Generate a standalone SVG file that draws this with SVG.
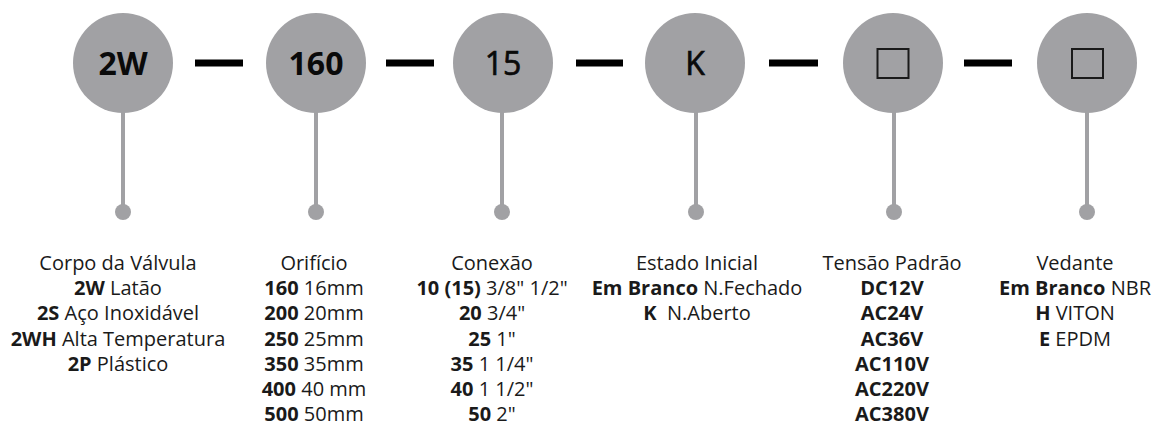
<svg xmlns="http://www.w3.org/2000/svg" width="1160" height="425" viewBox="0 0 1160 425">
<style>
.c{fill:#a1a1a4}
.stem{stroke:#a1a1a4;stroke-width:4}
.dash{fill:#000}
.nt{font-family:"Open Sans","Liberation Sans",sans-serif;font-size:32px;font-weight:700;fill:#0a0a0a;text-anchor:middle}
.nm{font-weight:400;stroke:#0a0a0a;stroke-width:0.7}
.sq{fill:none;stroke:#1a1a1a;stroke-width:2}
.t{font-family:"Open Sans","Liberation Sans",sans-serif;font-size:20px;fill:#1a1a1a;text-anchor:middle}
.b{font-weight:700}
</style>
<rect width="1160" height="425" fill="#fff"/>
<g id="connectors">
<rect class="dash" x="195" y="59.5" width="48" height="7"/>
<rect class="dash" x="386" y="59.5" width="48" height="7"/>
<rect class="dash" x="576" y="59.5" width="47" height="7"/>
<rect class="dash" x="769" y="59.5" width="49" height="7"/>
<rect class="dash" x="964" y="59.5" width="48" height="7"/>
<line class="stem" x1="123" y1="110" x2="123" y2="212"/>
<line class="stem" x1="316" y1="110" x2="316" y2="212"/>
<line class="stem" x1="502" y1="110" x2="502" y2="212"/>
<line class="stem" x1="696" y1="110" x2="696" y2="212"/>
<line class="stem" x1="894" y1="110" x2="894" y2="212"/>
<line class="stem" x1="1087" y1="110" x2="1087" y2="212"/>
<circle class="c" cx="123" cy="212" r="8"/>
<circle class="c" cx="316" cy="212" r="8"/>
<circle class="c" cx="502" cy="212" r="8"/>
<circle class="c" cx="696" cy="212" r="8"/>
<circle class="c" cx="894" cy="212" r="8"/>
<circle class="c" cx="1087" cy="212" r="8"/>
</g>
<g id="n1">
<circle class="c" cx="123" cy="63" r="50"/>
<text class="nt" x="123" y="75">2W</text>
<text class="t" x="118" y="270">Corpo da Válvula</text>
<text class="t" x="118" y="295.2"><tspan class="b">2W</tspan> Latão</text>
<text class="t" x="118" y="320.4"><tspan class="b">2S</tspan> Aço Inoxidável</text>
<text class="t" x="118" y="345.6"><tspan class="b">2WH</tspan> Alta Temperatura</text>
<text class="t" x="118" y="370.8"><tspan class="b">2P</tspan> Plástico</text>
</g>
<g id="n2">
<circle class="c" cx="316" cy="63" r="50"/>
<text class="nt" x="316" y="75">160</text>
<text class="t" x="314" y="270">Orifício</text>
<text class="t" x="314" y="295.2"><tspan class="b">160</tspan> 16mm</text>
<text class="t" x="314" y="320.4"><tspan class="b">200</tspan> 20mm</text>
<text class="t" x="314" y="345.6"><tspan class="b">250</tspan> 25mm</text>
<text class="t" x="314" y="370.8"><tspan class="b">350</tspan> 35mm</text>
<text class="t" x="314" y="396"><tspan class="b">400</tspan> 40 mm</text>
<text class="t" x="314" y="421"><tspan class="b">500</tspan> 50mm</text>
</g>
<g id="n3">
<circle class="c" cx="503" cy="63" r="50"/>
<text class="nt nm" x="503" y="75">15</text>
<text class="t" x="492" y="270">Conexão</text>
<text class="t" x="492" y="295.2"><tspan class="b">10 (15)</tspan> 3/8" 1/2"</text>
<text class="t" x="492" y="320.4"><tspan class="b">20</tspan> 3/4"</text>
<text class="t" x="492" y="345.6"><tspan class="b">25</tspan> 1"</text>
<text class="t" x="492" y="370.8"><tspan class="b">35</tspan> 1 1/4"</text>
<text class="t" x="492" y="396"><tspan class="b">40</tspan> 1 1/2"</text>
<text class="t" x="492" y="421"><tspan class="b">50</tspan> 2"</text>
</g>
<g id="n4">
<circle class="c" cx="695" cy="63" r="50"/>
<text class="nt nm" x="695" y="75">K</text>
<text class="t" x="697" y="270">Estado Inicial</text>
<text class="t" x="697" y="295.2"><tspan class="b">Em Branco</tspan> N.Fechado</text>
<text class="t" x="697" y="320.4" xml:space="preserve"><tspan class="b">K</tspan>  N.Aberto</text>
</g>
<g id="n5">
<circle class="c" cx="893" cy="63" r="50"/>
<rect class="sq" x="877.5" y="49" width="31" height="29"/>
<text class="t" x="892" y="270">Tensão Padrão</text>
<text class="t b" x="892" y="295.2">DC12V</text>
<text class="t b" x="892" y="320.4">AC24V</text>
<text class="t b" x="892" y="345.6">AC36V</text>
<text class="t b" x="892" y="370.8">AC110V</text>
<text class="t b" x="892" y="396">AC220V</text>
<text class="t b" x="892" y="421">AC380V</text>
</g>
<g id="n6">
<circle class="c" cx="1087" cy="63" r="50"/>
<rect class="sq" x="1072" y="49" width="31" height="29"/>
<text class="t" x="1075" y="270">Vedante</text>
<text class="t" x="1075" y="295.2"><tspan class="b">Em Branco</tspan> NBR</text>
<text class="t" x="1075" y="320.4"><tspan class="b">H</tspan> VITON</text>
<text class="t" x="1075" y="345.6"><tspan class="b">E</tspan> EPDM</text>
</g>
</svg>
